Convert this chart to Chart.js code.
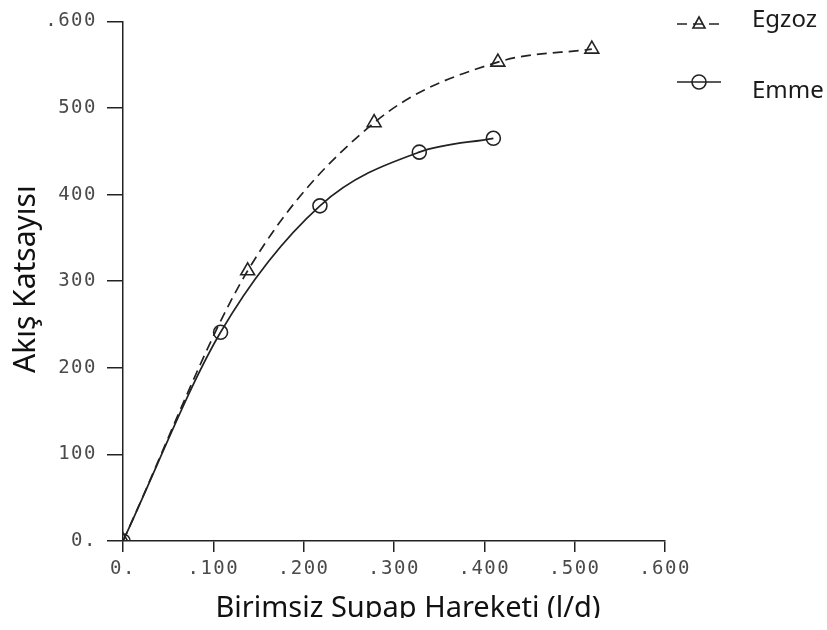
<!DOCTYPE html>
<html>
<head>
<meta charset="utf-8">
<title>Akış Katsayısı</title>
<script src="https://cdn.jsdelivr.net/npm/chart.js@4.4.1/dist/chart.umd.min.js"></script>
<style>
  html, body { margin: 0; padding: 0; background: #fff; }
  #wrap { width: 827px; height: 630px; }
</style>
</head>
<body>
<div id="wrap"><canvas id="flowChart" width="827" height="630"></canvas></div>
<script>
// valve lift (l/d) vs flow coefficient, exhaust and intake
var egzozLift = [0, 0.138, 0.278, 0.415, 0.519];
var egzozFlow = [0, 312, 483, 553, 568];
var emmeLift = [0, 0.108, 0.218, 0.328, 0.410];
var emmeFlow = [0, 241, 387, 449, 465];
var seriesNames = ['Egzoz', 'Emme'];
var xTitle = 'Birimsiz Supap Hareketi (l/d)';
var yTitle = 'Akış Katsayısı';
var xTickLabels = ['0.', '.100', '.200', '.300', '.400', '.500', '.600'];
var yTickLabels = ['0.', '100', '200', '300', '400', '500', '.600'];

var INK = '#222';
var TITLE_FONT = '"Noto Sans", sans-serif';

function toPoints(xs, ys) {
    return xs.map(function (x, i) { return {x: x, y: ys[i]}; });
}

// plotter style tick labels are wide, so space the letters out while the scales draw
var tickSpacing = {
    id: 'tickSpacing',
    beforeDraw: function (chart) { chart.ctx.letterSpacing = '1.5px'; },
    beforeDatasetsDraw: function (chart) { chart.ctx.letterSpacing = '0px'; }
};

// axis titles, legend and the cut-off bottom edge
var annotations = {
    id: 'annotations',
    afterDraw: function (chart) {
        var ctx = chart.ctx;
        var area = chart.chartArea;
        ctx.save();
        ctx.letterSpacing = '0px';
        ctx.fillStyle = '#111';
        ctx.textAlign = 'center';
        ctx.textBaseline = 'alphabetic';

        ctx.font = '29px ' + TITLE_FONT;
        ctx.fillText(xTitle, (area.left + area.right) / 2 + 14, 617);

        ctx.save();
        ctx.translate(35, (area.top + area.bottom) / 2 - 2);
        ctx.rotate(-Math.PI / 2);
        ctx.font = '30px ' + TITLE_FONT;
        ctx.fillText(yTitle, 0, 0);
        ctx.restore();

        var lineY = [24, 82];
        var textY = [20, 91];
        chart.data.datasets.forEach(function (ds, i) {
            var y = lineY[i];
            ctx.strokeStyle = ds.borderColor;
            ctx.lineWidth = 1.6;
            ctx.setLineDash(ds.borderDash || []);
            ctx.beginPath();
            ctx.moveTo(677, y);
            ctx.lineTo(721, y);
            ctx.stroke();
            ctx.setLineDash([]);
            ctx.beginPath();
            if (ds.pointStyle === 'triangle') {
                ctx.moveTo(699, y - 7);
                ctx.lineTo(705, y + 4);
                ctx.lineTo(693, y + 4);
                ctx.closePath();
            } else {
                ctx.arc(699, y, ds.pointRadius, 0, Math.PI * 2);
            }
            ctx.stroke();
            ctx.fillStyle = '#1a1a1a';
            ctx.font = '24px ' + TITLE_FONT;
            ctx.textBaseline = 'middle';
            ctx.textAlign = 'left';
            ctx.fillText(ds.label, 752, textY[i]);
        });

        // the figure is trimmed just under the x title
        ctx.fillStyle = '#fff';
        ctx.fillRect(0, 618, chart.width, chart.height - 618);
        ctx.restore();
    }
};

var ctx = document.getElementById('flowChart');

var flowChart = new Chart(ctx, {
    type: 'line',
    data: {
        datasets: [
            {
                label: seriesNames[0],
                data: toPoints(egzozLift, egzozFlow),
                borderColor: INK,
                borderWidth: 1.7,
                borderDash: [10, 6],
                cubicInterpolationMode: 'monotone',
                pointStyle: 'triangle',
                pointRadius: 8,
                pointBorderWidth: 1.6,
                pointBorderColor: INK,
                pointBackgroundColor: 'rgba(0,0,0,0)'
            },
            {
                label: seriesNames[1],
                data: toPoints(emmeLift, emmeFlow),
                borderColor: INK,
                borderWidth: 1.7,
                cubicInterpolationMode: 'monotone',
                pointStyle: 'circle',
                pointRadius: 7,
                pointBorderWidth: 1.6,
                pointBorderColor: INK,
                pointBackgroundColor: 'rgba(0,0,0,0)'
            }
        ]
    },
    options: {
        responsive: false,
        animation: false,
        devicePixelRatio: 1,
        layout: {
            padding: {left: 0, right: 162, top: 16, bottom: 0}
        },
        plugins: {
            legend: {display: false},
            tooltip: {enabled: false}
        },
        scales: {
            x: {
                type: 'linear',
                min: 0,
                max: 0.6,
                afterFit: function (scale) { scale.height = 89; },
                border: {display: true, color: INK, width: 1.5},
                grid: {drawOnChartArea: false, drawTicks: true, tickLength: 11, color: INK, lineWidth: 1.5},
                ticks: {
                    stepSize: 0.1,
                    autoSkip: false,
                    maxRotation: 0,
                    padding: 6,
                    color: '#4a4a4a',
                    font: {family: '"DejaVu Sans Mono", monospace', size: 19},
                    callback: function (value, index) { return xTickLabels[index]; }
                }
            },
            y: {
                min: 0,
                max: 600,
                afterFit: function (scale) { scale.width = 123; },
                border: {display: true, color: INK, width: 1.5},
                grid: {drawOnChartArea: false, drawTicks: true, tickLength: 16, color: INK, lineWidth: 1.5},
                ticks: {
                    stepSize: 100,
                    autoSkip: false,
                    padding: 10,
                    color: '#4a4a4a',
                    font: {family: '"DejaVu Sans Mono", monospace', size: 19},
                    callback: function (value, index) { return yTickLabels[index]; }
                }
            }
        }
    },
    plugins: [tickSpacing, annotations]
});
</script>
</body>
</html>
